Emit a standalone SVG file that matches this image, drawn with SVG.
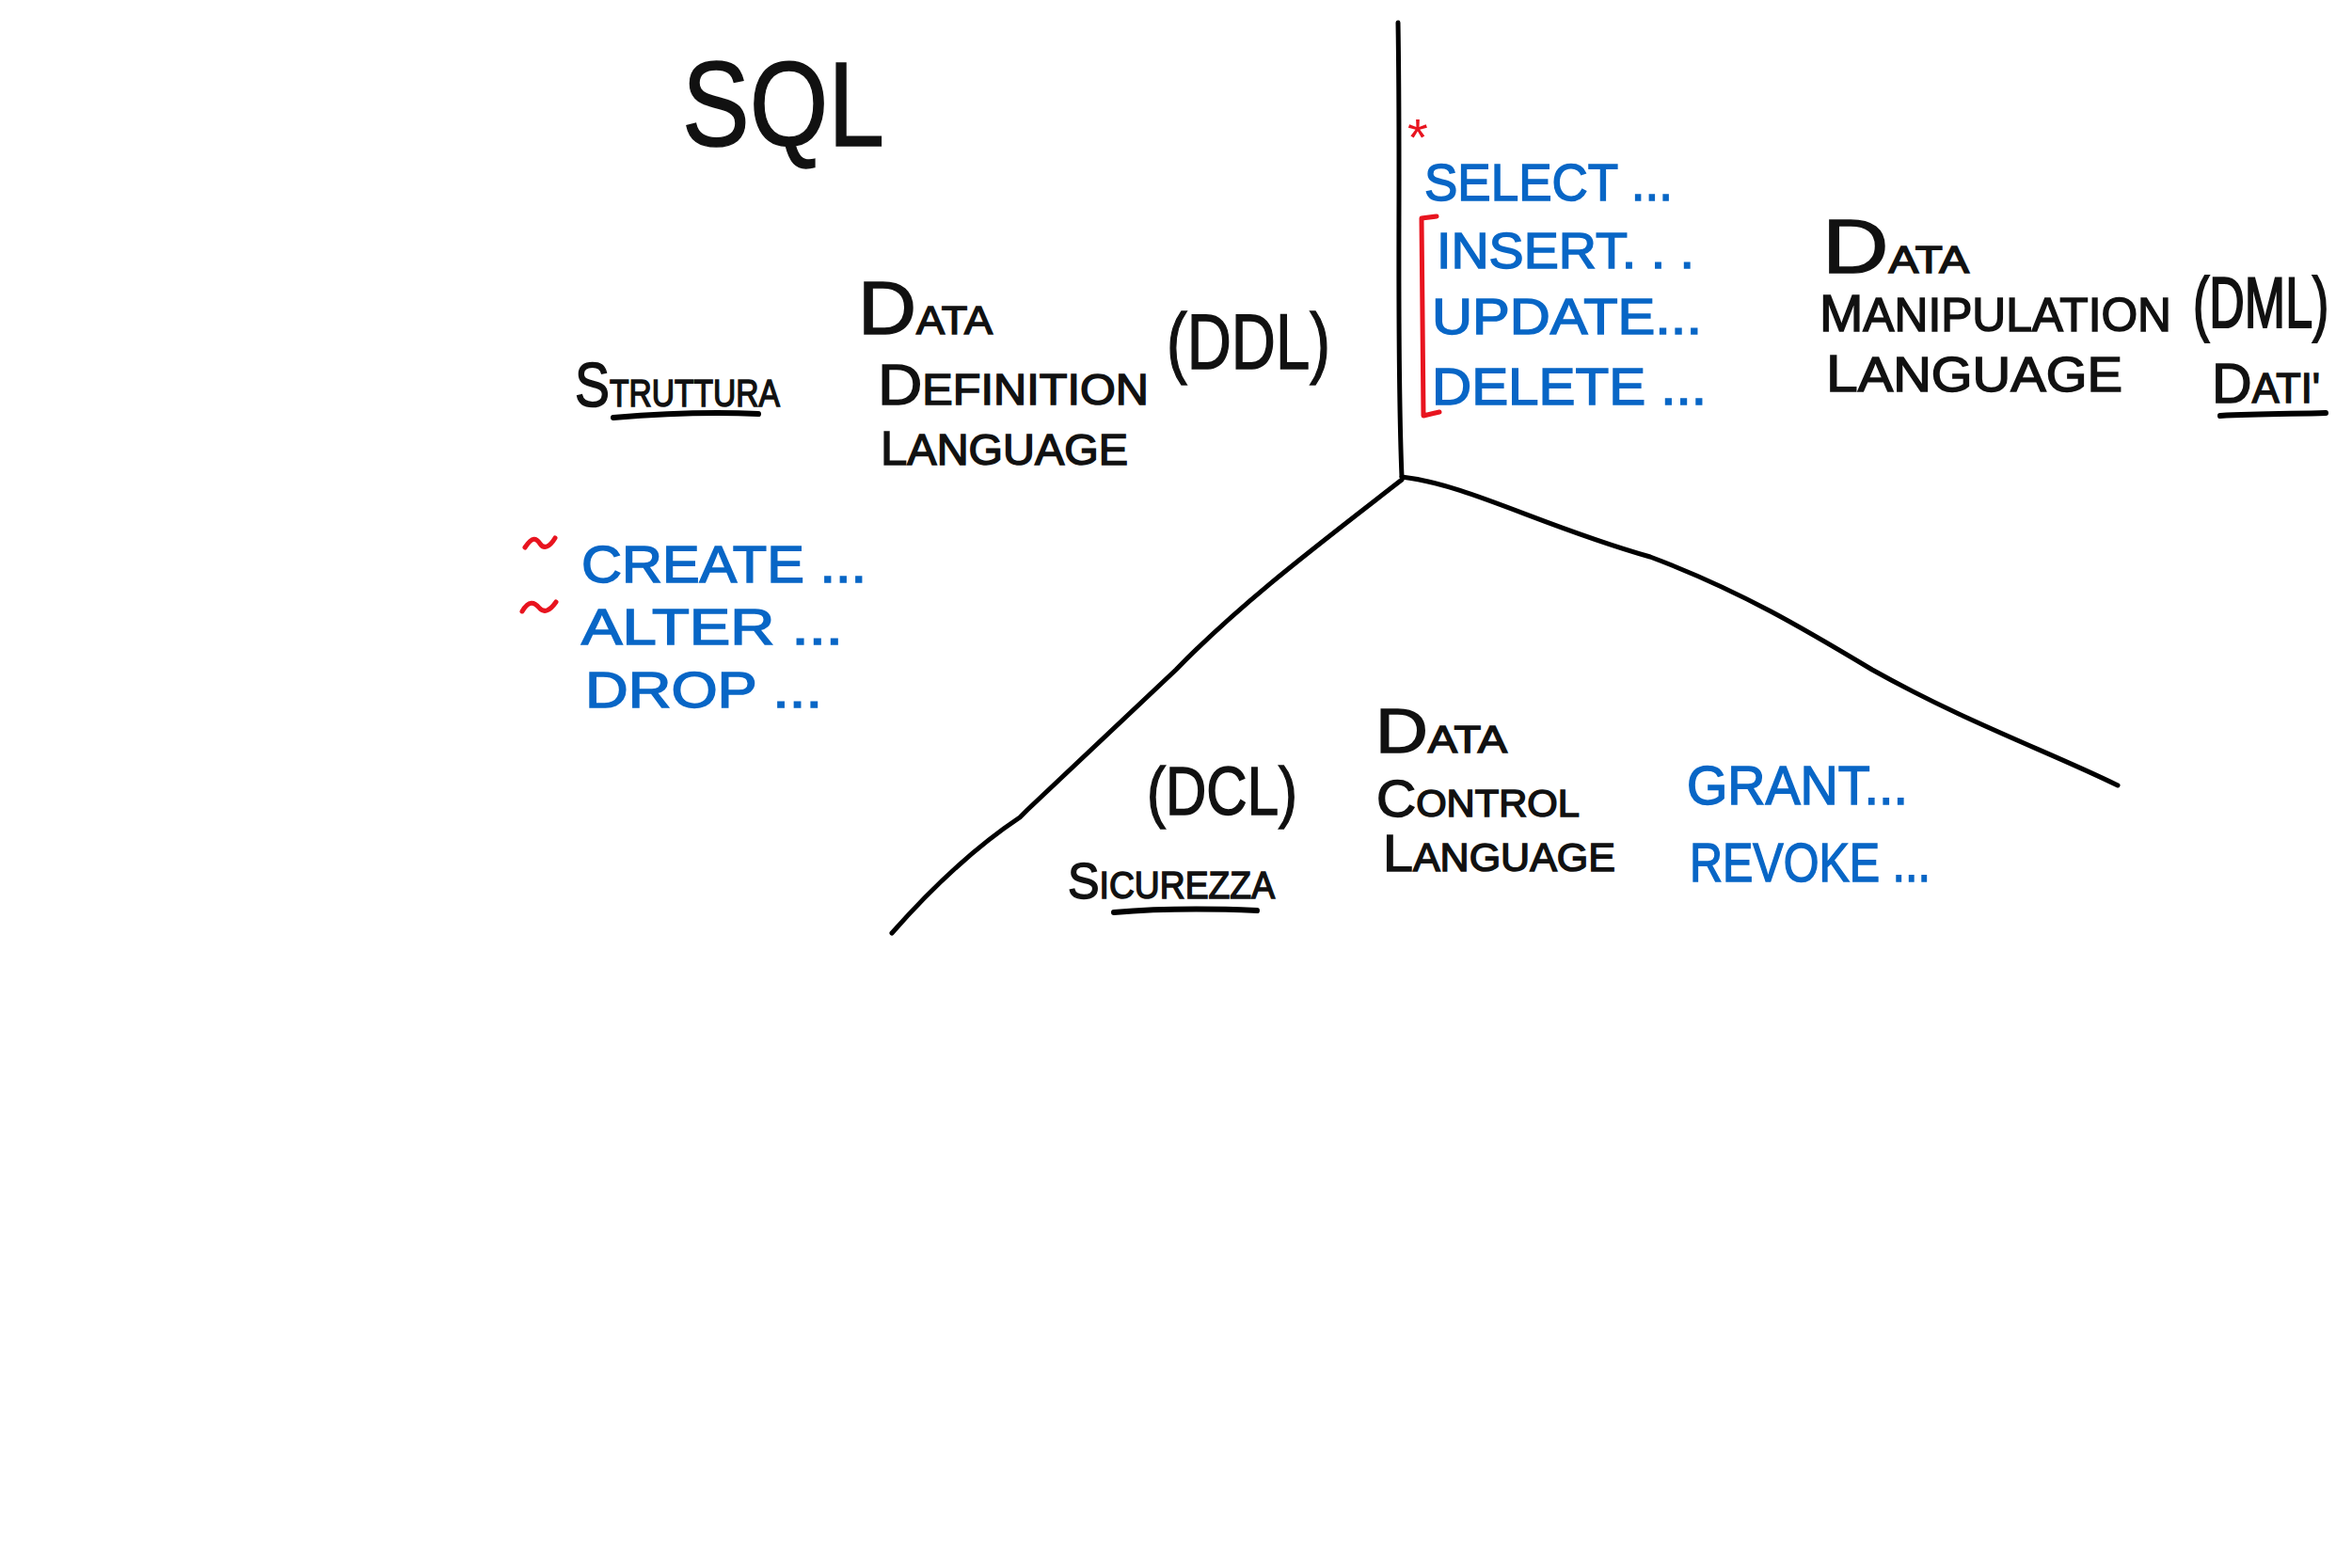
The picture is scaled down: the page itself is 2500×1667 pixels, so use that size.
<svg xmlns="http://www.w3.org/2000/svg" width="2500" height="1667" viewBox="0 0 2500 1667">
<style>
text{font-family:"Liberation Sans","DejaVu Sans",sans-serif;}
.k{fill:#111;stroke:#111;stroke-width:1.5}
.b{fill:#0866c6;stroke:#0866c6;stroke-width:1.5}
.r{fill:#e8141f}
.ln{fill:none;stroke:#000;stroke-width:5;stroke-linecap:round;stroke-linejoin:round}
.ul{fill:none;stroke:#000;stroke-width:6;stroke-linecap:round}
.red{fill:none;stroke:#e8141f;stroke-width:5;stroke-linecap:round;stroke-linejoin:round}
</style>
<rect width="2500" height="1667" fill="#fff"/>
<g id="connectors">
<path class="ln" d="M1486,24 C1489,200 1484,360 1490,507"/>
<path class="ln" d="M1490,507 C1560,515 1640,560 1754,592 C1850,628 1920,670 1990,712 C2090,768 2180,800 2251,835"/>
<path class="ln" d="M1490,510 C1400,580 1320,640 1250,712 L1092,861 L1084,869 C1030,905 985,950 948,992"/>
</g>
<g id="title"><text class="k" x="725" y="155" font-size="128" stroke-width="2" textLength="215" lengthAdjust="spacingAndGlyphs">SQL</text></g>
<g id="ddl">
<text class="k" x="611" y="432" font-size="40" textLength="218" lengthAdjust="spacingAndGlyphs"><tspan font-size="66">S</tspan>TRUTTURA</text>
<path class="ul" d="M652,444 C700,440 760,438 806,440"/>
<text class="k" x="912" y="355" font-size="42" textLength="143" lengthAdjust="spacingAndGlyphs"><tspan font-size="80">D</tspan>ATA</text>
<text class="k" x="933" y="430" font-size="46" textLength="288" lengthAdjust="spacingAndGlyphs"><tspan font-size="62">D</tspan>EFINITION</text>
<text class="k" x="936" y="494" font-size="46" textLength="263" lengthAdjust="spacingAndGlyphs"><tspan font-size="50">L</tspan>ANGUAGE</text>
<text class="k" x="1240" y="392" font-size="84" textLength="174" lengthAdjust="spacingAndGlyphs">(DDL)</text>
</g>
<g id="ddl-cmds">
<path class="red" d="M558,582 C566,570 570,572 574,578 C578,584 584,582 590,572"/>
<path class="red" d="M555,650 C562,638 568,640 573,646 C578,652 584,650 591,640"/>
<text class="b" x="618" y="619" font-size="56" textLength="303" lengthAdjust="spacingAndGlyphs">CREATE ...</text>
<text class="b" x="618" y="685" font-size="54" textLength="278" lengthAdjust="spacingAndGlyphs">ALTER ...</text>
<text class="b" x="622" y="752" font-size="54" textLength="252" lengthAdjust="spacingAndGlyphs">DROP ...</text>
</g>
<g id="dml-cmds">
<text class="r" x="1496" y="165" font-size="56">*</text>
<path class="red" d="M1527,230 L1511,232 L1513,442 L1530,438"/>
<text class="b" x="1514" y="213" font-size="56" textLength="264" lengthAdjust="spacingAndGlyphs">SELECT ...</text>
<text class="b" x="1527" y="285" font-size="54" textLength="274" lengthAdjust="spacingAndGlyphs">INSERT. . .</text>
<text class="b" x="1522" y="355" font-size="54" textLength="287" lengthAdjust="spacingAndGlyphs">UPDATE...</text>
<text class="b" x="1522" y="430" font-size="56" textLength="292" lengthAdjust="spacingAndGlyphs">DELETE ...</text>
</g>
<g id="dml">
<text class="k" x="1937" y="290" font-size="40" textLength="156" lengthAdjust="spacingAndGlyphs"><tspan font-size="82">D</tspan>ATA</text>
<text class="k" x="1934" y="352" font-size="50" textLength="374" lengthAdjust="spacingAndGlyphs"><tspan font-size="56">M</tspan>ANIPULATION</text>
<text class="k" transform="translate(2331,348) scale(1,1.45)" x="0" y="0" font-size="52">(DML)</text>
<text class="k" x="1941" y="416" font-size="52" textLength="315" lengthAdjust="spacingAndGlyphs"><tspan font-size="56">L</tspan>ANGUAGE</text>
<text class="k" x="2351" y="428" font-size="44" textLength="115" lengthAdjust="spacingAndGlyphs"><tspan font-size="60">D</tspan>ATI'</text>
<path class="ul" d="M2360,442 C2400,440 2440,440 2472,439"/>
</g>
<g id="dcl">
<text class="k" x="1462" y="800" font-size="40" textLength="140" lengthAdjust="spacingAndGlyphs"><tspan font-size="66">D</tspan>ATA</text>
<text class="k" x="1463" y="868" font-size="40" textLength="216" lengthAdjust="spacingAndGlyphs"><tspan font-size="56">C</tspan>ONTROL</text>
<text class="k" x="1470" y="926" font-size="42" textLength="247" lengthAdjust="spacingAndGlyphs"><tspan font-size="56">L</tspan>ANGUAGE</text>
<text class="k" x="1219" y="866" font-size="72" textLength="160" lengthAdjust="spacingAndGlyphs">(DCL)</text>
<text class="k" x="1135" y="955" font-size="40" textLength="220" lengthAdjust="spacingAndGlyphs"><tspan font-size="54">S</tspan>ICUREZZA</text>
<path class="ul" d="M1184,970 C1230,966 1290,966 1336,968"/>
<text class="b" x="1793" y="855" font-size="58" textLength="235" lengthAdjust="spacingAndGlyphs">GRANT...</text>
<text class="b" x="1796" y="937" font-size="58" textLength="256" lengthAdjust="spacingAndGlyphs">REVOKE ...</text>
</g>
</svg>
